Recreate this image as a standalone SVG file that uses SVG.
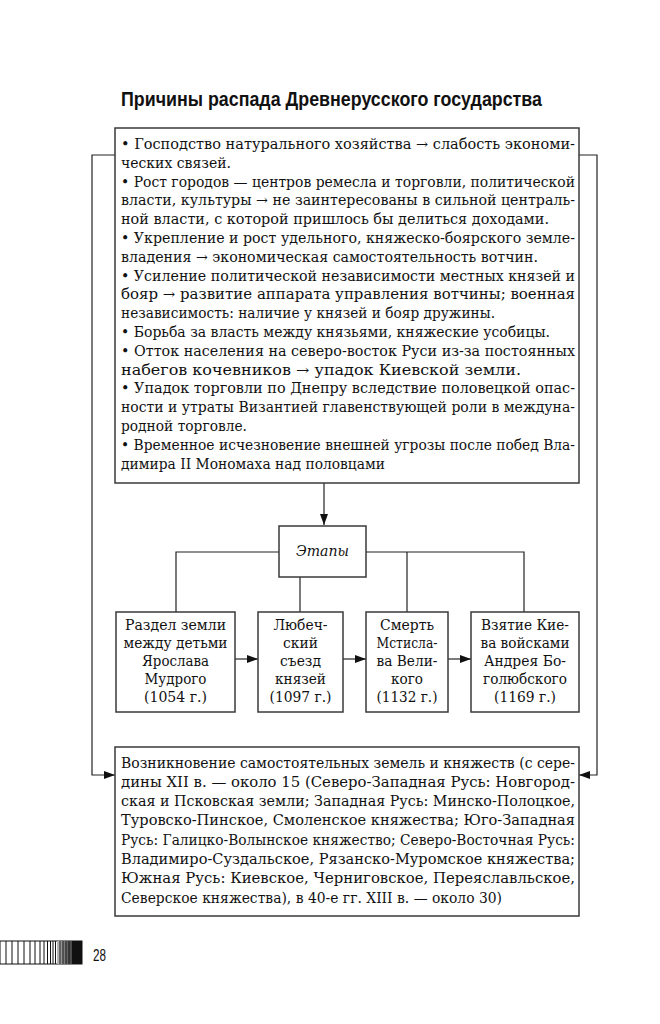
<svg xmlns="http://www.w3.org/2000/svg" width="660" height="1024" viewBox="0 0 660 1024">
<defs>
<style>
.box{fill:#fff;stroke:#3a3a3a;stroke-width:1.5}
.ln{fill:none;stroke:#222;stroke-width:1.2}
.t{font-family:"DejaVu Serif","Liberation Serif",serif;font-size:14px;fill:#111}
.c{text-anchor:middle}
.title{font-family:"Liberation Sans",Arial,sans-serif;font-weight:bold;font-size:19.5px;fill:#111}
</style>
<marker id="ah" viewBox="0 0 11 8" refX="11" refY="4" markerWidth="11" markerHeight="8" markerUnits="userSpaceOnUse" orient="auto">
<path d="M0,0 L11,4 L0,8 Z" fill="#111"/>
</marker>
<linearGradient id="bg" x1="0" x2="1" y1="0" y2="0">
<stop offset="0" stop-color="#bbb"/>
<stop offset="0.5" stop-color="#555"/>
<stop offset="1" stop-color="#111"/>
</linearGradient>
</defs>
<rect width="660" height="1024" fill="#fff"/>

<text class="title" x="121" y="106" textLength="421" lengthAdjust="spacingAndGlyphs">Причины распада Древнерусского государства</text>

<g id="connectors">
<polyline class="ln" points="115,155 92,155 92,775 115,775" marker-end="url(#ah)"/>
<polyline class="ln" points="579,155 597,155 597,775 579,775" marker-end="url(#ah)"/>
<line class="ln" x1="324" y1="483" x2="324" y2="525" marker-end="url(#ah)"/>
<polyline class="ln" points="279,552 176,552 176,612"/>
<polyline class="ln" points="366,552 524,552 524,612"/>
<line class="ln" x1="407" y1="552" x2="407" y2="612"/>
<line class="ln" x1="300" y1="577" x2="300" y2="612"/>
<line class="ln" x1="235" y1="659" x2="258" y2="659" marker-end="url(#ah)"/>
<line class="ln" x1="343" y1="659" x2="366" y2="659" marker-end="url(#ah)"/>
<line class="ln" x1="448" y1="659" x2="471" y2="659" marker-end="url(#ah)"/>
</g>

<g id="causes">
<rect class="box" x="115" y="128" width="464" height="355"/>
<text class="t" x="121" y="149" textLength="454" lengthAdjust="spacingAndGlyphs">• Господство натурального хозяйства → слабость экономи-</text>
<text class="t" x="121" y="167.8" textLength="110" lengthAdjust="spacingAndGlyphs">ческих связей.</text>
<text class="t" x="121" y="186.6" textLength="454" lengthAdjust="spacingAndGlyphs">• Рост городов — центров ремесла и торговли, политической</text>
<text class="t" x="121" y="205.4" textLength="454" lengthAdjust="spacingAndGlyphs">власти, культуры →  не заинтересованы в сильной централь-</text>
<text class="t" x="121" y="224.2" textLength="428" lengthAdjust="spacingAndGlyphs">ной власти, с которой пришлось бы делиться доходами.</text>
<text class="t" x="121" y="243" textLength="454" lengthAdjust="spacingAndGlyphs">• Укрепление и рост удельного, княжеско-боярского земле-</text>
<text class="t" x="121" y="261.8" textLength="417" lengthAdjust="spacingAndGlyphs">владения →  экономическая самостоятельность вотчин.</text>
<text class="t" x="121" y="280.6" textLength="454" lengthAdjust="spacingAndGlyphs">• Усиление политической независимости местных князей и</text>
<text class="t" x="121" y="299.4" textLength="454" lengthAdjust="spacingAndGlyphs">бояр →    развитие аппарата управления вотчины; военная</text>
<text class="t" x="121" y="318.2" textLength="374" lengthAdjust="spacingAndGlyphs">независимость: наличие у князей и бояр дружины.</text>
<text class="t" x="121" y="337" textLength="429" lengthAdjust="spacingAndGlyphs">• Борьба за власть между князьями, княжеские усобицы.</text>
<text class="t" x="121" y="355.8" textLength="454" lengthAdjust="spacingAndGlyphs">• Отток населения на северо-восток Руси из-за постоянных</text>
<text class="t" x="121" y="374.6" textLength="400" lengthAdjust="spacingAndGlyphs">набегов кочевников →  упадок Киевской земли.</text>
<text class="t" x="121" y="393.4" textLength="454" lengthAdjust="spacingAndGlyphs">• Упадок торговли по Днепру вследствие половецкой опас-</text>
<text class="t" x="121" y="412.2" textLength="454" lengthAdjust="spacingAndGlyphs">ности и утраты Византией главенствующей роли в междуна-</text>
<text class="t" x="121" y="431" textLength="126" lengthAdjust="spacingAndGlyphs">родной торговле.</text>
<text class="t" x="121" y="449.8" textLength="454" lengthAdjust="spacingAndGlyphs">• Временное исчезновение внешней угрозы после побед Вла-</text>
<text class="t" x="121" y="468.6" textLength="264" lengthAdjust="spacingAndGlyphs">димира II Мономаха над половцами</text>
</g>

<g id="stages">
<rect class="box" x="279" y="526" width="87" height="51"/>
<text class="t c" x="322.5" y="556" font-style="italic" textLength="53" lengthAdjust="spacingAndGlyphs">Этапы</text>
</g>

<g id="stage1">
<rect class="box" x="116" y="612" width="119" height="100"/>
<text class="t c" x="175.5" y="630" textLength="101" lengthAdjust="spacingAndGlyphs">Раздел земли</text>
<text class="t c" x="175.5" y="648" textLength="104" lengthAdjust="spacingAndGlyphs">между детьми</text>
<text class="t c" x="175.5" y="666" textLength="67" lengthAdjust="spacingAndGlyphs">Ярослава</text>
<text class="t c" x="175.5" y="684" textLength="62" lengthAdjust="spacingAndGlyphs">Мудрого</text>
<text class="t c" x="175.5" y="702" textLength="63" lengthAdjust="spacingAndGlyphs">(1054 г.)</text>
</g>

<g id="stage2">
<rect class="box" x="258" y="612" width="85" height="100"/>
<text class="t c" x="300.5" y="630" textLength="54" lengthAdjust="spacingAndGlyphs">Любеч-</text>
<text class="t c" x="300.5" y="648" textLength="35" lengthAdjust="spacingAndGlyphs">ский</text>
<text class="t c" x="300.5" y="666" textLength="41" lengthAdjust="spacingAndGlyphs">съезд</text>
<text class="t c" x="300.5" y="684" textLength="51" lengthAdjust="spacingAndGlyphs">князей</text>
<text class="t c" x="300.5" y="702" textLength="62" lengthAdjust="spacingAndGlyphs">(1097 г.)</text>
</g>

<g id="stage3">
<rect class="box" x="366" y="612" width="82" height="100"/>
<text class="t c" x="407" y="630" textLength="54" lengthAdjust="spacingAndGlyphs">Смерть</text>
<text class="t c" x="407" y="648" textLength="61" lengthAdjust="spacingAndGlyphs">Мстисла-</text>
<text class="t c" x="407" y="666" textLength="61" lengthAdjust="spacingAndGlyphs">ва Вели-</text>
<text class="t c" x="407" y="684" textLength="32" lengthAdjust="spacingAndGlyphs">кого</text>
<text class="t c" x="407" y="702" textLength="61" lengthAdjust="spacingAndGlyphs">(1132 г.)</text>
</g>

<g id="stage4">
<rect class="box" x="471" y="612" width="108" height="100"/>
<text class="t c" x="525" y="630" textLength="88" lengthAdjust="spacingAndGlyphs">Взятие Кие-</text>
<text class="t c" x="525" y="648" textLength="89" lengthAdjust="spacingAndGlyphs">ва войсками</text>
<text class="t c" x="525" y="666" textLength="82" lengthAdjust="spacingAndGlyphs">Андрея Бо-</text>
<text class="t c" x="525" y="684" textLength="84" lengthAdjust="spacingAndGlyphs">голюбского</text>
<text class="t c" x="525" y="702" textLength="62" lengthAdjust="spacingAndGlyphs">(1169 г.)</text>
</g>

<g id="result">
<rect class="box" x="115" y="747" width="464" height="169"/>
<text class="t" x="121" y="767.5" textLength="454" lengthAdjust="spacingAndGlyphs">Возникновение самостоятельных земель и княжеств (с сере-</text>
<text class="t" x="121" y="786.8" textLength="454" lengthAdjust="spacingAndGlyphs">дины XII в. — около 15 (Северо-Западная Русь: Новгород-</text>
<text class="t" x="121" y="806.1" textLength="454" lengthAdjust="spacingAndGlyphs">ская и Псковская земли; Западная Русь: Минско-Полоцкое,</text>
<text class="t" x="121" y="825.4" textLength="454" lengthAdjust="spacingAndGlyphs">Туровско-Пинское, Смоленское княжества; Юго-Западная</text>
<text class="t" x="121" y="844.7" textLength="454" lengthAdjust="spacingAndGlyphs">Русь: Галицко-Волынское княжество; Северо-Восточная Русь:</text>
<text class="t" x="121" y="864" textLength="454" lengthAdjust="spacingAndGlyphs">Владимиро-Суздальское, Рязанско-Муромское княжества;</text>
<text class="t" x="121" y="883.3" textLength="454" lengthAdjust="spacingAndGlyphs">Южная Русь: Киевское, Черниговское, Переяславльское,</text>
<text class="t" x="121" y="902.6" textLength="381" lengthAdjust="spacingAndGlyphs">Северское княжества), в 40-е гг. XIII в. — около 30)</text>
</g>

<g id="footer">
<rect x="0" y="941" width="82" height="23" fill="#fff" stroke="#111" stroke-width="1"/>
<g stroke="#111" stroke-width="1">
<line x1="6" y1="941" x2="6" y2="964"/>
<line x1="12" y1="941" x2="12" y2="964"/>
<line x1="18" y1="941" x2="18" y2="964"/>
<line x1="24" y1="941" x2="24" y2="964"/>
<line x1="30" y1="941" x2="30" y2="964"/>
<line x1="35" y1="941" x2="35" y2="964"/>
<line x1="40" y1="941" x2="40" y2="964"/>
<line x1="44" y1="941" x2="44" y2="964"/>
<line x1="47.5" y1="941" x2="47.5" y2="964"/>
<line x1="50.5" y1="941" x2="50.5" y2="964"/>
<line x1="53" y1="941" x2="53" y2="964"/>
<line x1="55.5" y1="941" x2="55.5" y2="964"/>
</g>
<rect x="57" y="941" width="25" height="23" fill="url(#bg)"/>
<g stroke="#000" stroke-width="0.8">
<line x1="60" y1="941" x2="60" y2="964"/>
<line x1="63" y1="941" x2="63" y2="964"/>
<line x1="66" y1="941" x2="66" y2="964"/>
<line x1="69" y1="941" x2="69" y2="964"/>
</g>
<rect x="72" y="941" width="10" height="23" fill="#111"/>
<text x="93" y="961" font-family="'Liberation Sans',Arial,sans-serif" font-size="17" textLength="13" lengthAdjust="spacingAndGlyphs" fill="#111">28</text>
</g>
</svg>
